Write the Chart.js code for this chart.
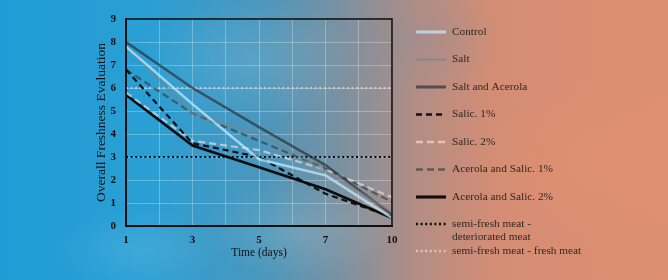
<!DOCTYPE html>
<html>
<head>
<meta charset="utf-8">
<script src="https://cdn.jsdelivr.net/npm/chart.js@4.4.0/dist/chart.umd.min.js"></script>
<style>
  html, body { margin: 0; padding: 0; }
  #wrap {
    width: 668px; height: 280px; position: relative; overflow: hidden;
    background:
      radial-gradient(ellipse 120px 60px at 140px 250px, rgba(255,255,255,0.10), rgba(255,255,255,0) 70%),
      radial-gradient(ellipse 140px 70px at 300px 230px, rgba(255,255,255,0.12), rgba(255,255,255,0) 70%),
      radial-gradient(ellipse 160px 90px at 250px 60px, rgba(255,255,255,0.10), rgba(255,255,255,0) 70%),
      radial-gradient(ellipse 120px 80px at 420px 40px, rgba(120,140,160,0.25), rgba(120,140,160,0) 70%),
      radial-gradient(ellipse 180px 120px at 600px 160px, rgba(240,150,110,0.25), rgba(240,150,110,0) 70%),
      linear-gradient(90deg, #1f9cd5 0%, #2a9fd4 22%, #4d96bb 40%, #7e919f 52%, #b38d86 62%, #d48d74 74%, #de8f72 100%);
  }
  canvas { display: block; }
</style>
</head>
<body>
<div id="wrap"><canvas id="chart" width="668" height="280"></canvas></div>
<script>
// time axis (days) and freshness scores
var days = ['1', '3', '5', '7', '10'];
var control = [7.8, 5.3, 2.9, 2.2, 0.35];
var salt = [7.8, 4.9, 4.0, 2.4, 0.6];
var saltAcerola = [8.0, 6.0, 4.3, 2.65, 0.5];
var salic1 = [6.8, 3.6, 3.0, 1.4, 0.4];
var salic2 = [5.8, 3.7, 3.3, 2.45, 1.25];
var acerolaSalic1 = [6.8, 4.9, 3.7, 2.5, 1.05];
var acerolaSalic2 = [5.7, 3.5, 2.55, 1.6, 0.35];
var deteriorated = [3, 3, 3, 3, 3];
var fresh = [6, 6, 6, 6, 6];
var yTicks = [0, 1, 2, 3, 4, 5, 6, 7, 8, 9];

function pts(values) {
  return values.map(function(v, i){ return {x: i, y: v}; });
}

function series(label, values, color, width, dash) {
  return {
    label: label,
    data: pts(values),
    borderColor: color,
    backgroundColor: color,
    borderWidth: width,
    borderDash: dash || [],
    pointRadius: 0,
    fill: false,
    tension: 0
  };
}

var datasets = [
  series('Control', control, 'rgba(195,232,250,0.75)', 2.5),
  series('Salt', salt, 'rgba(125,130,135,0.6)', 2),
  series('Salt and Acerola', saltAcerola, 'rgba(45,50,55,0.7)', 2.5),
  series('Salic. 1%', salic1, 'rgba(10,10,10,0.95)', 2.2, [6, 4]),
  series('Salic. 2%', salic2, 'rgba(255,228,228,0.6)', 2.2, [7, 4]),
  series('Acerola and Salic. 1%', acerolaSalic1, 'rgba(60,62,66,0.7)', 2.2, [7, 4]),
  series('Acerola and Salic. 2%', acerolaSalic2, 'rgba(5,5,5,0.95)', 2.6),
  series(['semi-fresh meat -', 'deteriorated meat'], deteriorated, 'rgba(5,5,5,0.95)', 2, [2, 2.6]),
  series('semi-fresh meat - fresh meat', fresh, 'rgba(255,225,220,0.6)', 2, [2, 2.6])
];

var legendRows = [32, 59.5, 87, 114.5, 142, 169.5, 197, 224, 251];

var framePlugin = {
  id: 'frame',
  afterDraw: function(chart) {
    var ctx = chart.ctx, a = chart.chartArea;
    ctx.save();
    ctx.strokeStyle = '#111';
    ctx.lineWidth = 1.6;
    ctx.strokeRect(a.left, a.top, a.right - a.left, a.bottom - a.top);

    // legend on the right
    ctx.font = '11.3px "Liberation Serif", serif';
    ctx.textBaseline = 'middle';
    ctx.textAlign = 'left';
    chart.data.datasets.forEach(function(ds, i){
      var y = legendRows[i];
      ctx.beginPath();
      ctx.strokeStyle = ds.borderColor;
      ctx.lineWidth = ds.borderWidth + 0.5;
      ctx.setLineDash(ds.borderDash);
      ctx.moveTo(416, y);
      ctx.lineTo(446, y);
      ctx.stroke();
      ctx.setLineDash([]);
      ctx.fillStyle = 'rgba(25,25,25,0.9)';
      var lines = Array.isArray(ds.label) ? ds.label : [ds.label];
      lines.forEach(function(t, k){
        ctx.fillText(t, 452, y + k * 13.5);
      });
    });
    ctx.restore();
  }
};

var ctx = document.getElementById('chart');
var myChart = new Chart(ctx, {
  type: 'line',
  data: { datasets: datasets },
  options: {
    responsive: false,
    animation: false,
    layout: { padding: { left: 88, right: 276, top: 19, bottom: 20 } },
    plugins: {
      legend: { display: false },
      tooltip: { enabled: false }
    },
    scales: {
      x: {
        type: 'linear',
        min: 0,
        max: days.length - 1,
        afterFit: function(scale){ scale.height = 34; },
        border: { color: '#111', width: 2 },
        grid: { color: 'rgba(255,255,255,0.28)', lineWidth: 1, drawTicks: false },
        ticks: {
          stepSize: 0.5,
          autoSkip: false,
          maxRotation: 0,
          padding: 8,
          color: '#111',
          font: { family: '"Liberation Serif", serif', size: 11, weight: 'bold' },
          callback: function(v){ return Number.isInteger(v) ? days[v] : ''; }
        },
        title: {
          display: true,
          text: 'Time (days)',
          color: '#111',
          font: { family: '"Liberation Serif", serif', size: 11.5 },
          padding: { top: 0, bottom: 0 }
        }
      },
      y: {
        min: yTicks[0],
        max: yTicks[yTicks.length - 1],
        afterFit: function(scale){ scale.width = 38; },
        border: { color: '#111', width: 2 },
        grid: { color: 'rgba(255,255,255,0.28)', lineWidth: 1, drawTicks: false },
        ticks: {
          stepSize: 1,
          padding: 10,
          color: '#111',
          font: { family: '"Liberation Serif", serif', size: 11, weight: 'bold' }
        },
        title: {
          display: true,
          text: 'Overall Freshness Evaluation',
          color: '#111',
          font: { family: '"Liberation Serif", serif', size: 13.5 },
          padding: { top: 5, bottom: 0 }
        }
      }
    }
  },
  plugins: [framePlugin]
});
</script>
</body>
</html>
